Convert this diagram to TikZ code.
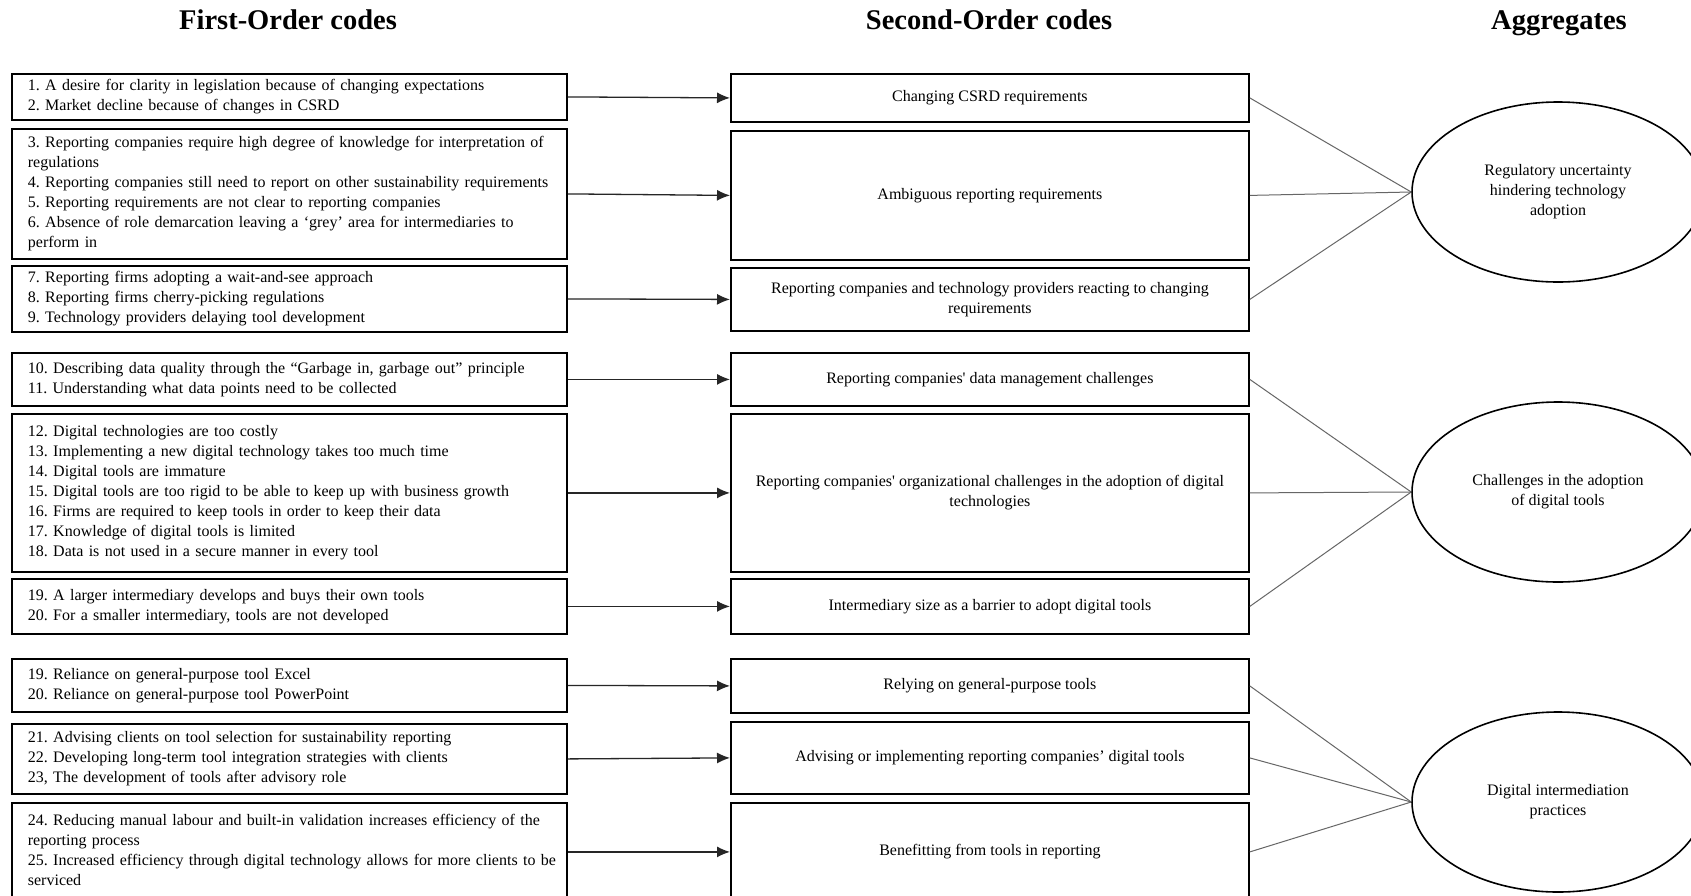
\documentclass[tikz,border=0pt]{standalone}
\usepackage{fontspec}
\setmainfont{Liberation Serif}
\usetikzlibrary{shapes.geometric,arrows.meta}
\newcommand{\bodyfont}{\fontsize{16}{20}\selectfont\frenchspacing}
\begin{document}
\frenchspacing
\begin{tikzpicture}[x=1pt,y=-1pt,
  header/.style={font=\fontsize{28.5}{32}\selectfont\bfseries, anchor=base},
  lbox/.style={draw, line width=1.8pt, anchor=north west, minimum width=555pt,
    text width=523pt, inner xsep=16pt, inner ysep=0pt, align=left, font=\bodyfont},
  mbox/.style={draw, line width=1.8pt, anchor=north west, minimum width=518pt,
    inner xsep=8pt, inner ysep=0pt, align=center, font=\bodyfont},
  agg/.style={draw, ellipse, line width=1.6pt, minimum width=292pt, minimum height=180pt,
    inner sep=0pt, align=center, font=\bodyfont},
  feed/.style={line width=1.3pt, black!85, -{Latex[length=13pt,width=11pt]}},
  link/.style={line width=1pt, black!60}]
\clip (0,0) rectangle (1691,895);
\fill[white] (0,0) rectangle (1691,895);

% headers
\node[header] (h1) at (288,29.5) {First-Order codes};
\node[header] (h2) at (989,29.5) {Second-Order codes};
\node[header] (h3) at (1559,29.5) {Aggregates};

% first-order boxes
\node[lbox, minimum height=46pt] (l1) at (11,73) {\begin{tabular}{@{}l@{}}
1. A desire for clarity in legislation because of changing expectations\\
2. Market decline because of changes in CSRD\end{tabular}};
\node[lbox, minimum height=130pt] (l2) at (11,128) {\begin{tabular}{@{}l@{}}
3. Reporting companies require high degree of knowledge for interpretation of\\
regulations\\
4. Reporting companies still need to report on other sustainability requirements\\
5. Reporting requirements are not clear to reporting companies\\
6. Absence of role demarcation leaving a ‘grey’ area for intermediaries to\\
perform in\end{tabular}};
\node[lbox, minimum height=66pt] (l3) at (11,265) {\begin{tabular}{@{}l@{}}
7. Reporting firms adopting a wait-and-see approach\\
8. Reporting firms cherry-picking regulations\\
9. Technology providers delaying tool development\end{tabular}};
\node[lbox, minimum height=53pt] (l4) at (11,352) {\begin{tabular}{@{}l@{}}
10. Describing data quality through the “Garbage in, garbage out” principle\\
11. Understanding what data points need to be collected\end{tabular}};
\node[lbox, minimum height=158pt] (l5) at (11,413) {\begin{tabular}{@{}l@{}}
12. Digital technologies are too costly\\
13. Implementing a new digital technology takes too much time\\
14. Digital tools are immature\\
15. Digital tools are too rigid to be able to keep up with business growth\\
16. Firms are required to keep tools in order to keep their data\\
17. Knowledge of digital tools is limited\\
18. Data is not used in a secure manner in every tool\end{tabular}};
\node[lbox, minimum height=55pt] (l6) at (11,578) {\begin{tabular}{@{}l@{}}
19. A larger intermediary develops and buys their own tools\\
20. For a smaller intermediary, tools are not developed\end{tabular}};
\node[lbox, minimum height=53pt] (l7) at (11,658) {\begin{tabular}{@{}l@{}}
19. Reliance on general-purpose tool Excel\\
20. Reliance on general-purpose tool PowerPoint\end{tabular}};
\node[lbox, minimum height=70pt] (l8) at (11,723) {\begin{tabular}{@{}l@{}}
21. Advising clients on tool selection for sustainability reporting\\
22. Developing long-term tool integration strategies with clients\\
23, The development of tools after advisory role\end{tabular}};
\node[lbox, minimum height=98pt] (l9) at (11,802) {\begin{tabular}{@{}l@{}}
24. Reducing manual labour and built-in validation increases efficiency of the\\
reporting process\\
25. Increased efficiency through digital technology allows for more clients to be\\
serviced\end{tabular}};

% second-order boxes
\node[mbox, minimum height=48pt] (m1) at (730,73) {Changing CSRD requirements};
\node[mbox, minimum height=129pt] (m2) at (730,130) {Ambiguous reporting requirements};
\node[mbox, minimum height=63pt] (m3) at (730,267) {Reporting companies and technology providers reacting to changing\\requirements};
\node[mbox, minimum height=53pt] (m4) at (730,352) {Reporting companies\textquotesingle{} data management challenges};
\node[mbox, minimum height=158pt] (m5) at (730,413) {Reporting companies\textquotesingle{} organizational challenges in the adoption of digital\\technologies};
\node[mbox, minimum height=55pt] (m6) at (730,578) {Intermediary size as a barrier to adopt digital tools};
\node[mbox, minimum height=54pt] (m7) at (730,658) {Relying on general-purpose tools};
\node[mbox, minimum height=72pt] (m8) at (730,721) {Advising or implementing reporting companies’ digital tools};
\node[mbox, minimum height=98pt] (m9) at (730,802) {Benefitting from tools in reporting};

% aggregates
\node[agg] (a1) at (1558,192) {Regulatory uncertainty\\hindering technology\\adoption};
\node[agg] (a2) at (1558,492) {Challenges in the adoption\\of digital tools};
\node[agg] (a3) at (1558,802) {Digital intermediation\\practices};

% arrows first -> second
\foreach \i in {1,...,9} {\draw[feed] (l\i.east) -- (m\i.west);}

% links second -> aggregates
\foreach \i in {1,2,3} {\draw[link] (m\i.east) -- (a1.west);}
\foreach \i in {4,5,6} {\draw[link] (m\i.east) -- (a2.west);}
\foreach \i in {7,8,9} {\draw[link] (m\i.east) -- (a3.west);}
\end{tikzpicture}
\end{document}
